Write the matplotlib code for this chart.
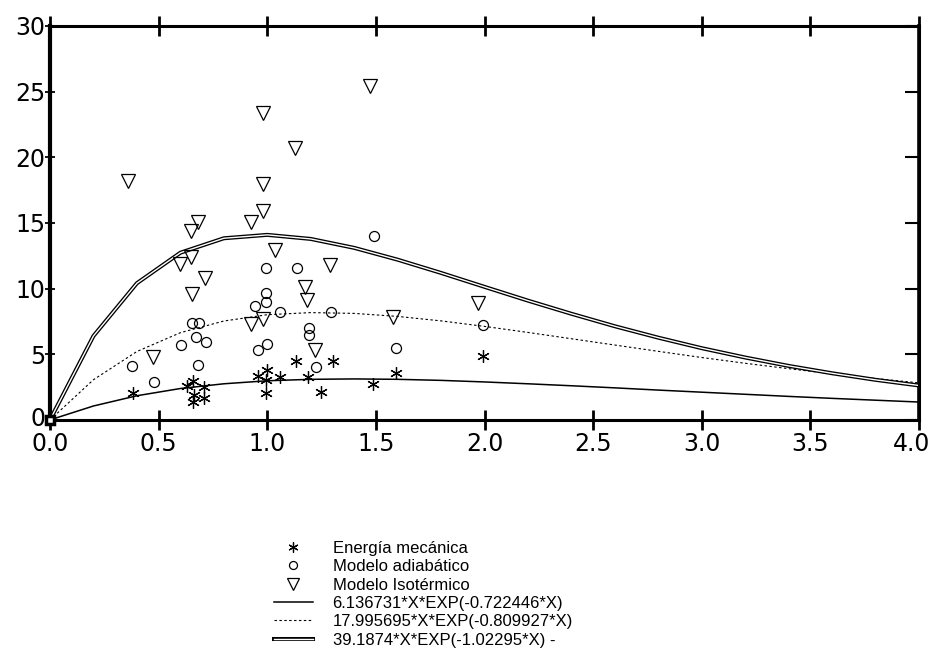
import matplotlib
matplotlib.use("Agg")
import matplotlib.pyplot as plt
import matplotlib.transforms as mtransforms

plt.rcParams["font.family"] = ["Liberation Sans", "DejaVu Sans"]

energia_x = [0.38, 0.63, 0.66, 0.71, 0.665, 0.66, 0.71, 0.957, 1.0, 0.995, 1.057, 0.995,
             1.134, 1.303, 1.187, 1.246, 1.487, 1.591, 1.991]
energia_y = [2.05, 2.55, 2.98, 2.48, 1.87, 1.4, 1.67, 3.38, 3.81, 3.05, 3.23, 2.05,
             4.5, 4.5, 3.3, 2.12, 2.73, 3.56, 4.83]

adiab_x = [0.376, 0.478, 0.604, 0.653, 0.688, 0.673, 0.719, 0.683, 0.995, 1.138, 0.945,
           0.995, 0.995, 1.057, 1.19, 1.19, 0.957, 0.998, 1.226, 1.49, 1.295, 1.994, 1.591]
adiab_y = [4.1, 2.9, 5.7, 7.35, 7.35, 6.3, 5.95, 4.2, 11.6, 11.55, 8.7, 9.7, 9.0, 8.2,
           7.0, 6.5, 5.3, 5.8, 4.0, 14.0, 8.2, 7.2, 5.5]

isot_x = [0.358, 0.98, 1.126, 0.98, 0.98, 0.923, 0.683, 0.647, 1.034, 0.65, 0.60, 0.714,
          0.653, 1.172, 1.184, 0.923, 0.98, 0.473, 1.218, 1.475, 1.287, 1.971, 1.579]
isot_y = [18.2, 23.4, 20.7, 17.95, 15.9, 15.1, 15.1, 14.4, 12.9, 12.4, 11.9, 10.8,
          9.6, 10.1, 9.1, 7.3, 7.7, 4.8, 5.3, 25.45, 11.8, 8.9, 7.8]

# curvas ajustadas (valores leidos cada 0.2)
curva_x = [0.0, 0.2, 0.4, 0.6, 0.8, 1.0, 1.2, 1.4, 1.6, 1.8, 2.0,
           2.2, 2.4, 2.6, 2.8, 3.0, 3.2, 3.4, 3.6, 3.8, 4.0]
curva_energia = [0.0, 1.06, 1.84, 2.39, 2.75, 2.98, 3.09, 3.12, 3.09, 3.01, 2.89,
                 2.75, 2.60, 2.44, 2.27, 2.11, 1.95, 1.79, 1.64, 1.50, 1.36]
curva_adiab = [0.0, 3.06, 5.21, 6.64, 7.53, 8.01, 8.17, 8.11, 7.88, 7.54, 7.12,
               6.66, 6.18, 5.70, 5.22, 4.75, 4.31, 3.90, 3.51, 3.15, 2.82]
curva_isot = [0.0, 6.39, 10.41, 12.73, 13.83, 14.09, 13.78, 13.10, 12.20, 11.19, 10.13,
              9.08, 8.08, 7.13, 6.26, 5.46, 4.75, 4.11, 3.55, 3.05, 2.62]

etiquetas = ["Energía mecánica", "Modelo adiabático", "Modelo Isotérmico",
             "6.136731*X*EXP(-0.722446*X)", "17.995695*X*EXP(-0.809927*X)",
             "39.1874*X*EXP(-1.02295*X) -"]
xticks = [0.0, 0.5, 1.0, 1.5, 2.0, 2.5, 3.0, 3.5, 4.0]
yticks = [0, 5, 10, 15, 20, 25, 30]

fig = plt.figure(figsize=(9.33, 6.48), dpi=100)
ax = fig.add_axes([0.0536, 0.352, 0.9315, 0.608])

# linea doble: negra gruesa con blanca encima
l_iso_b, = ax.plot(curva_x, curva_isot, color="black", lw=2.9, zorder=2)
l_iso_w, = ax.plot(curva_x, curva_isot, color="white", lw=1.0, zorder=2.1)
l_adi, = ax.plot(curva_x, curva_adiab, color="black", lw=0.8, ls=(0, (2.2, 2.2)), zorder=2)
l_ene, = ax.plot(curva_x, curva_energia, color="black", lw=1.1, zorder=2)

m_ene, = ax.plot(energia_x, energia_y, ls="none", marker=(6, 2, 0), ms=9,
                 mec="black", mew=0.9, zorder=3)
m_adi, = ax.plot(adiab_x, adiab_y, ls="none", marker="o", ms=7.2, mfc="none",
                 mec="black", mew=0.9, zorder=3)
m_iso, = ax.plot(isot_x, isot_y, ls="none", marker="v", ms=10, mfc="none",
                 mec="black", mew=0.9, zorder=3)
ax.plot([0], [0], ls="none", marker="s", ms=6, mfc="white", mec="black", mew=2.5,
        clip_on=False, zorder=4)

ax.set_xlim(0, 4.0)
ax.set_ylim(0, 30)
ax.set_xticks(xticks)
ax.set_xticklabels([f"{v:.1f}" for v in xticks], family="DejaVu Sans", fontsize=17)
ax.set_yticks(yticks)
ax.set_yticklabels([str(v) for v in yticks], family="DejaVu Sans", fontsize=17)
ax.tick_params(axis="x", direction="inout", length=14, width=2, top=True, pad=2)
ax.tick_params(axis="y", direction="inout", length=7, width=1.3, pad=0)
for s in ax.spines.values():
    s.set_linewidth(2.2)
ax.spines["left"].set_linewidth(3)

# ultima etiqueta un poco a la izquierda, como en el original
lbl = ax.get_xticklabels()[-1]
lbl.set_transform(lbl.get_transform() + mtransforms.ScaledTranslation(-0.08, 0, fig.dpi_scale_trans))
# el "0" del eje y algo mas arriba para no pisar el "0.0"
lbl0 = ax.get_yticklabels()[0]
lbl0.set_transform(lbl0.get_transform() + mtransforms.ScaledTranslation(0, 0.03, fig.dpi_scale_trans))

# ticks interiores del eje derecho
ay = ax.secondary_yaxis("right")
ay.set_yticks(yticks)
ay.tick_params(direction="in", length=10, width=1.5, labelright=False)
ay.spines["right"].set_linewidth(2.6)

handles = [m_ene, m_adi, m_iso, l_ene, l_adi, (l_iso_b, l_iso_w)]
fig.legend(handles, etiquetas, loc="upper left", bbox_to_anchor=(0.285, 0.178),
           frameon=False, fontsize=12, labelspacing=0.2, handlelength=2.3,
           handletextpad=1.2, markerscale=0.8, borderpad=0)

fig.savefig("out.png", dpi=100)
